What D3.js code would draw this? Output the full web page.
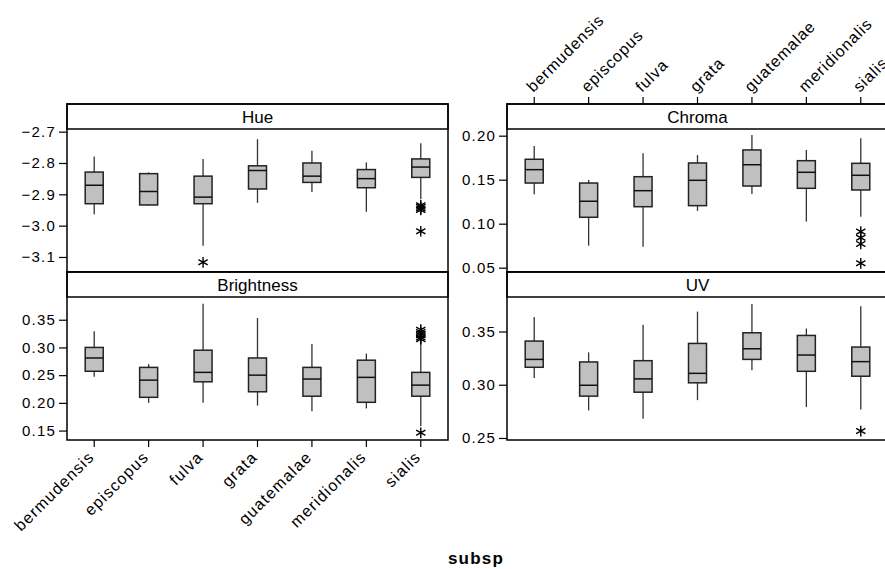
<!DOCTYPE html>
<html>
<head>
<meta charset="utf-8">
<script src="https://cdn.jsdelivr.net/npm/d3@7"></script>
<style>
  body { margin: 0; background: #fff; }
  svg { display: block; font-family: "Liberation Sans", Arial, sans-serif; }
</style>
</head>
<body>
<div id="chart"></div>
<script>
// categorias (subespecies)
const subsp = ["bermudensis", "episcopus", "fulva", "grata", "guatemalae", "meridionalis", "sialis"];

// cajas: [bigote inferior, Q1, mediana, Q3, bigote superior]
const hueStats = [
  [-2.964, -2.930, -2.871, -2.829, -2.779],
  [-2.936, -2.934, -2.891, -2.834, -2.830],
  [-3.064, -2.930, -2.909, -2.842, -2.787],
  [-2.927, -2.883, -2.824, -2.809, -2.724],
  [-2.893, -2.862, -2.842, -2.800, -2.761],
  [-2.956, -2.879, -2.850, -2.821, -2.798],
  [-2.916, -2.846, -2.813, -2.787, -2.737]
];
const hueOutliers = [
  ["fulva", -3.117],
  ["sialis", -2.935], ["sialis", -2.940], ["sialis", -2.945], ["sialis", -2.950],
  ["sialis", -3.018]
];

const chromaStats = [
  [0.1334, 0.1462, 0.1614, 0.1732, 0.1883],
  [0.0750, 0.1073, 0.1255, 0.1462, 0.1497],
  [0.0739, 0.1193, 0.1375, 0.1534, 0.1800],
  [0.1144, 0.1205, 0.1493, 0.1690, 0.1780],
  [0.1337, 0.1428, 0.1670, 0.1838, 0.2008],
  [0.1023, 0.1402, 0.1584, 0.1716, 0.1838],
  [0.1080, 0.1383, 0.1550, 0.1686, 0.1970]
];
const chromaOutliers = [
  ["sialis", 0.091], ["sialis", 0.084], ["sialis", 0.077], ["sialis", 0.055]
];

const brightStats = [
  [0.247, 0.257, 0.281, 0.300, 0.329],
  [0.200, 0.210, 0.241, 0.264, 0.270],
  [0.200, 0.238, 0.255, 0.295, 0.379],
  [0.195, 0.220, 0.250, 0.281, 0.353],
  [0.185, 0.212, 0.243, 0.264, 0.306],
  [0.190, 0.201, 0.246, 0.277, 0.289],
  [0.158, 0.212, 0.232, 0.255, 0.310]
];
const brightOutliers = [
  ["sialis", 0.332], ["sialis", 0.328], ["sialis", 0.325],
  ["sialis", 0.322], ["sialis", 0.318], ["sialis", 0.315],
  ["sialis", 0.146]
];

const uvStats = [
  [0.3064, 0.3164, 0.3238, 0.3410, 0.3635],
  [0.2759, 0.2893, 0.2995, 0.3214, 0.3304],
  [0.2681, 0.2930, 0.3055, 0.3226, 0.3563],
  [0.2855, 0.3018, 0.3107, 0.3388, 0.3687],
  [0.3136, 0.3238, 0.3338, 0.3488, 0.3759],
  [0.2790, 0.3126, 0.3279, 0.3463, 0.3528],
  [0.2768, 0.3080, 0.3217, 0.3354, 0.3737]
];
const uvOutliers = [
  ["sialis", 0.2565]
];

// marcas de los ejes
const hueTicks = [-3.1, -3.0, -2.9, -2.8, -2.7];
const chromaTicks = [0.05, 0.10, 0.15, 0.20];
const brightTicks = [0.15, 0.20, 0.25, 0.30, 0.35];
const uvTicks = [0.25, 0.30, 0.35];

const width = 885, height = 569;
const panelW = 381, stripH = 25, plotH = 143;

const svg = d3.select("#chart")
    .append("svg")
    .attr("width", width)
    .attr("height", height);

// tabla de paneles
const panels = [
  { title: "Hue", stats: hueStats, out: hueOutliers, dom: [-3.148, -2.6915], ticks: hueTicks, fmt: d3.format(".1f"), x0: 67, y0: 104, xTop: false, xBottom: false },
  { title: "Chroma", stats: chromaStats, out: chromaOutliers, dom: [0.0451, 0.2076], ticks: chromaTicks, fmt: d3.format(".2f"), x0: 507, y0: 104, xTop: true, xBottom: false },
  { title: "Brightness", stats: brightStats, out: brightOutliers, dom: [0.133, 0.391], ticks: brightTicks, fmt: d3.format(".2f"), x0: 67, y0: 272, xTop: false, xBottom: true },
  { title: "UV", stats: uvStats, out: uvOutliers, dom: [0.2481, 0.3824], ticks: uvTicks, fmt: d3.format(".2f"), x0: 507, y0: 272, xTop: false, xBottom: false }
];

const boxW = 18;

panels.forEach(function(p) {
    const g = svg.append("g").attr("transform", `translate(${p.x0}, ${p.y0})`);
    const plotTop = stripH, plotBottom = stripH + plotH;

    const x = d3.scaleBand()
        .domain(subsp)
        .range([0, panelW])
        .padding(0);

    const y = d3.scaleLinear()
        .domain(p.dom)
        .range([plotBottom, plotTop]);

    // eje y
    g.append("g")
        .call(d3.axisLeft(y).tickValues(p.ticks).tickFormat(p.fmt).tickSize(8).tickPadding(3))
        .call(a => a.select(".domain").remove())
        .call(a => a.selectAll("line").attr("stroke", "#000").attr("stroke-width", 1.2))
        .call(a => a.selectAll("text")
            .attr("font-size", 15)
            .attr("letter-spacing", "1.2px")
            .attr("fill", "#000")
            .attr("font-family", "Liberation Sans, Arial, sans-serif"));

    const data = p.stats.map((s, i) => ({ k: subsp[i], lo: s[0], q1: s[1], med: s[2], q3: s[3], hi: s[4] }));
    const cx = d => x(d.k) + x.bandwidth() / 2;

    // bigotes
    g.selectAll(".whisker")
        .data(data)
        .enter()
        .append("line")
        .attr("x1", cx).attr("x2", cx)
        .attr("y1", d => y(d.lo)).attr("y2", d => y(d.hi))
        .attr("stroke", "#333")
        .attr("stroke-width", 1.3);

    // cajas
    g.selectAll(".box")
        .data(data)
        .enter()
        .append("rect")
        .attr("x", d => cx(d) - boxW / 2)
        .attr("y", d => y(d.q3))
        .attr("width", boxW)
        .attr("height", d => y(d.q1) - y(d.q3))
        .attr("fill", "#c0c0c0")
        .attr("stroke", "#222")
        .attr("stroke-width", 1.5);

    // medianas
    g.selectAll(".median")
        .data(data)
        .enter()
        .append("line")
        .attr("x1", d => cx(d) - boxW / 2).attr("x2", d => cx(d) + boxW / 2)
        .attr("y1", d => y(d.med)).attr("y2", d => y(d.med))
        .attr("stroke", "#111")
        .attr("stroke-width", 1.5);

    // atipicos
    const star = d3.symbol().type(d3.symbolAsterisk).size(80);
    g.selectAll(".outlier")
        .data(p.out)
        .enter()
        .append("path")
        .attr("transform", d => `translate(${x(d[0]) + x.bandwidth() / 2}, ${y(d[1])})`)
        .attr("d", star)
        .attr("fill", "none")
        .attr("stroke", "#000")
        .attr("stroke-width", 1.4);

    // marco y franja del titulo
    g.append("rect")
        .attr("x", 0).attr("y", 0)
        .attr("width", panelW).attr("height", stripH)
        .attr("fill", "#fff")
        .attr("stroke", "#000")
        .attr("stroke-width", 1.5);

    g.append("rect")
        .attr("x", 0).attr("y", 0)
        .attr("width", panelW).attr("height", stripH + plotH)
        .attr("fill", "none")
        .attr("stroke", "#000")
        .attr("stroke-width", 1.5);

    g.append("text")
        .attr("x", panelW / 2)
        .attr("y", stripH / 2 + 6)
        .attr("text-anchor", "middle")
        .attr("font-size", 17)
        .text(p.title);

    // eje x inferior
    if (p.xBottom) {
        const ax = g.append("g")
            .attr("transform", `translate(0, ${plotBottom})`)
            .call(d3.axisBottom(x).tickSize(7).tickSizeOuter(0))
            .call(a => a.select(".domain").remove())
            .call(a => a.selectAll("line").attr("stroke", "#000").attr("stroke-width", 1.2));
        ax.selectAll("text")
            .attr("font-size", 16)
            .attr("letter-spacing", "1.2px")
            .attr("fill", "#000")
            .attr("text-anchor", "end")
            .attr("x", 0).attr("y", 0).attr("dy", 0)
            .attr("transform", "translate(1, 18) rotate(-45)");
    }

    // eje x superior
    if (p.xTop) {
        const ax = g.append("g")
            .call(d3.axisTop(x).tickSize(7).tickSizeOuter(0))
            .call(a => a.select(".domain").remove())
            .call(a => a.selectAll("line").attr("stroke", "#000").attr("stroke-width", 1.2));
        ax.selectAll("text")
            .attr("font-size", 16)
            .attr("letter-spacing", "0.9px")
            .attr("fill", "#000")
            .attr("text-anchor", "start")
            .attr("x", 0).attr("y", 0).attr("dy", 0)
            .attr("transform", "translate(-1, -11) rotate(-45)");
    }
});

// titulo del eje x
svg.append("text")
    .attr("x", 476)
    .attr("y", 564)
    .attr("text-anchor", "middle")
    .attr("font-size", 17)
    .attr("font-weight", "bold")
    .attr("letter-spacing", "1.2px")
    .text("subsp");
</script>
</body>
</html>
